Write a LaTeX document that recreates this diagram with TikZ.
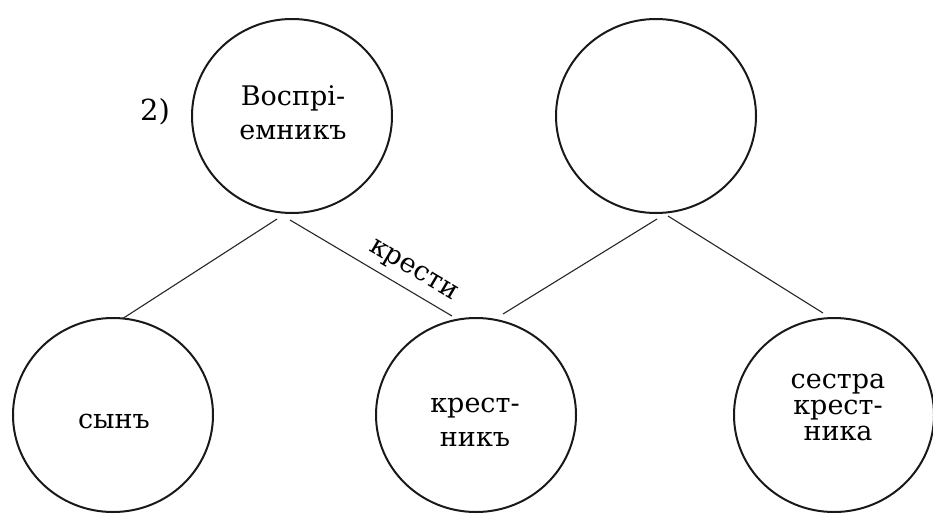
\documentclass[tikz,border=0pt]{standalone}
\usepackage{fontspec}
\setmainfont{DejaVu Serif}
\usetikzlibrary{shapes.geometric,calc}
\begin{document}
\begin{tikzpicture}[x=1pt,y=-1pt,
  circ/.style={draw=black!90, line width=2pt, ellipse, minimum width=200pt, minimum height=194pt, inner sep=0pt},
  lbl/.style={font=\fontsize{27}{34}\selectfont, align=center, inner sep=0pt},
  conn/.style={draw=black!85, line width=1.1pt}]
\useasboundingbox (0,0) rectangle (933,517);
\node[circ] (tl) at (292,116) {};
\node[circ] (tr) at (656,116) {};
\node[circ] (bl) at (113,415) {};
\node[circ] (bm) at (476,415) {};
\node[circ] (br) at (834,415) {};
\node[lbl] (tlt) at (293,113) {Воспрі-\\емникъ};
\node[lbl] (blt) at (114,421) {сынъ};
\node[lbl] (bmt) at (475,422) {крест-\\никъ};
\node[lbl, font=\fontsize{27}{26}\selectfont] (brt) at (838,407) {сестра\\крест-\\ника};
\node[lbl, font=\fontsize{29}{34}\selectfont] (num) at (155,112) {2)};
\draw[conn] ([xshift=-15pt,yshift=-5pt]tl.south) -- ([xshift=9pt,yshift=-2pt]bl.north);
\draw[conn] ([xshift=-2pt,yshift=-6pt]tl.south) -- coordinate[pos=0.7] (kmid) ([xshift=-24pt,yshift=1pt]bm.north);
\draw[conn] ([xshift=1pt,yshift=-5pt]tr.south) -- ([xshift=27pt,yshift=3pt]bm.north);
\draw[conn] ([xshift=12pt,yshift=-2pt]tr.south) -- ([xshift=-11pt,yshift=4pt]br.north);
\node[lbl, rotate=-30.6, anchor=south, inner sep=8pt] (kr) at (kmid) {крести};
\end{tikzpicture}
\end{document}
